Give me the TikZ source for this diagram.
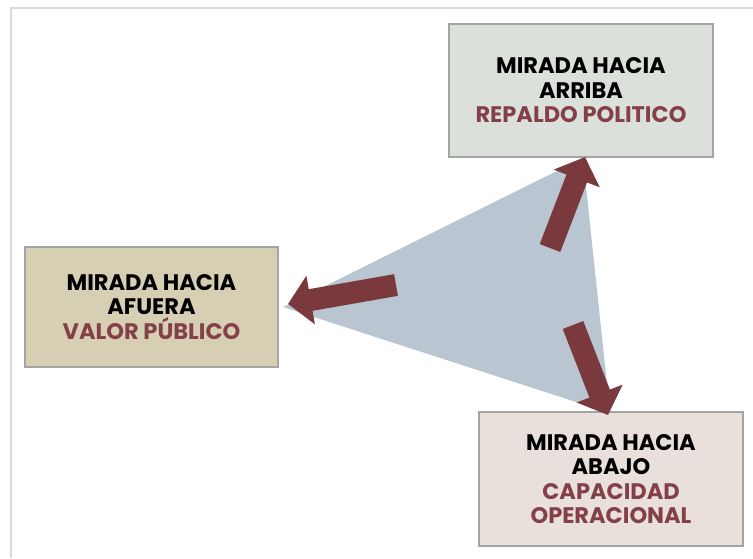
\documentclass[tikz,border=0pt]{standalone}
\usepackage{fontspec}
\usetikzlibrary{arrows.meta}
\newfontfamily\gothic{Poppins}
\definecolor{marco}{HTML}{D9D9D9}
\definecolor{borde}{HTML}{A3A5A3}
\definecolor{vino}{HTML}{7A3A3D}
\definecolor{letravino}{HTML}{844048}
\definecolor{triang}{HTML}{B9C5D1}
\definecolor{fondoarriba}{HTML}{DCE0DA}
\definecolor{fondoafuera}{HTML}{D7CFB3}
\definecolor{fondoabajo}{HTML}{E9E0DB}
\newcommand{\rojo}[1]{\textcolor{letravino}{#1}}

\begin{document}
\begin{tikzpicture}[x=1pt,y=-1pt,
  mirada/.style={draw=borde, line width=1.5pt, align=center, inner sep=0pt,
    font=\gothic\bfseries\fontsize{22.5}{24.5}\selectfont},
  flecha/.style={draw=vino, line width=22pt,
    -{Triangle[width=48pt,length=23pt]}}]
 \useasboundingbox (0,0) rectangle (753,558);
 % frame
 \draw[marco, line width=1.5pt] (11,558) -- (11,8) -- (753,8);
 % triangle
 \fill[triang] (283,307) -- (583,158) -- (610,413) -- cycle;
 % boxes
 \node[mirada, fill=fondoarriba, minimum width=264pt, minimum height=133pt]
   (arriba) at (581,90.5) {MIRADA HACIA\\ARRIBA\\\rojo{REPALDO POLITICO}};
 \node[mirada, fill=fondoafuera, minimum width=253pt, minimum height=120pt]
   (afuera) at (151.5,307) {MIRADA HACIA\\AFUERA\\\rojo{VALOR PÚBLICO}};
 \node[mirada, fill=fondoabajo, minimum width=264pt, minimum height=134pt]
   (abajo) at (611,479) {MIRADA HACIA\\ABAJO\\\rojo{CAPACIDAD}\\\rojo{OPERACIONAL}};
 % arrows
 \coordinate (colaarriba) at (550,248);
 \coordinate (puntaarriba) at (585,157);
 \coordinate (colaafuera) at (396,285);
 \coordinate (puntaafuera) at (288,304);
 \coordinate (colaabajo) at (573,325);
 \coordinate (puntaabajo) at (608,415);
 \draw[flecha] (colaarriba) -- (puntaarriba);
 \draw[flecha] (colaafuera) -- (puntaafuera);
 \draw[flecha] (colaabajo) -- (puntaabajo);
\end{tikzpicture}
\end{document}
